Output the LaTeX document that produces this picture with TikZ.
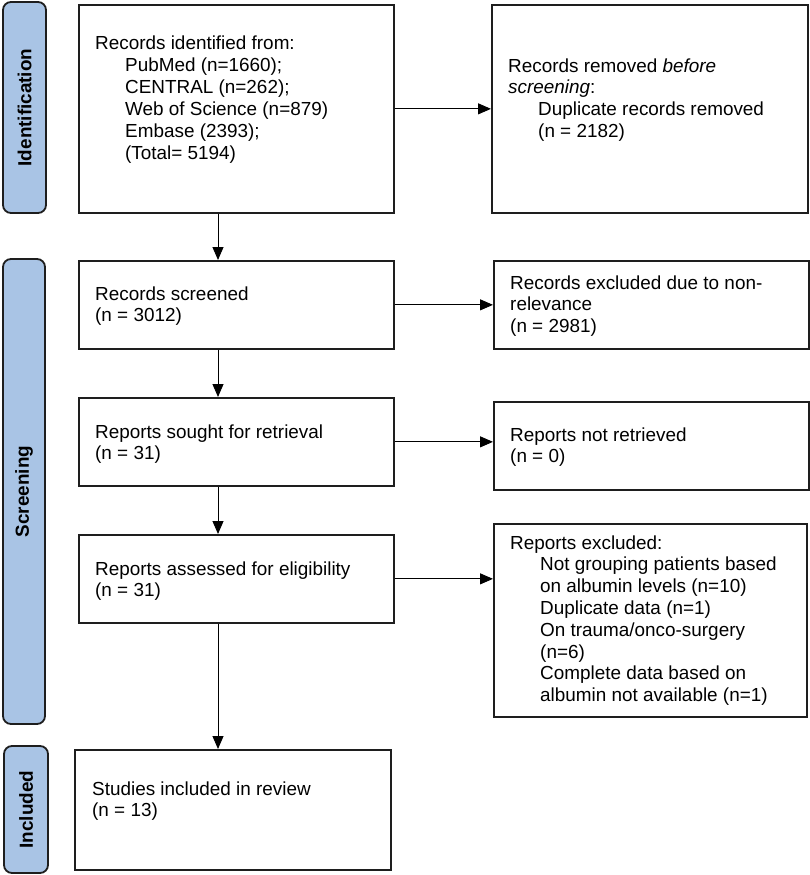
\documentclass[tikz,border=0pt]{standalone}
\usepackage{fontspec}
\setmainfont{Liberation Sans}
\usetikzlibrary{arrows.meta}
\definecolor{sideblue}{RGB}{169,196,229}
\definecolor{edge}{RGB}{30,30,30}
\newcommand{\lns}[1]{\begin{tabular}[t]{@{}l@{}}#1\end{tabular}}
\newcommand{\ind}{\hspace*{30pt}}
\begin{document}
\begin{tikzpicture}[x=1pt,y=-1pt,
  box/.style={draw=edge,line width=1.7pt,fill=white,inner sep=0pt,anchor=north west},
  side/.style={draw=edge,line width=1.8pt,fill=sideblue,rounded corners=8pt,rotate=90,inner sep=0pt,
     font=\fontsize{18.9}{21.8}\selectfont\bfseries},
  txt/.style={inner sep=0pt,anchor=base west,font=\fontsize{18.9}{21.8}\selectfont},
  arr/.style={draw=black,line width=1pt,-{Triangle[length=13pt,width=11pt]}}]
\useasboundingbox (0,0) rectangle (810,875);

% side labels
\node[side,minimum width=211pt,minimum height=43pt] (s1) at (24.5,107.5) {Identification};
\node[side,minimum width=465pt,minimum height=42pt] (s2) at (24,491.5) {Screening};
\node[side,minimum width=127pt,minimum height=44pt] (s3) at (26,809.5) {Included};

% boxes
\node[box,minimum width=315pt,minimum height=208pt] (b1) at (78,4) {};
\node[box,minimum width=316pt,minimum height=208pt] (b2) at (491,4) {};
\node[box,minimum width=315pt,minimum height=88pt] (b3) at (78,260) {};
\node[box,minimum width=315pt,minimum height=88pt] (b4) at (493,260) {};
\node[box,minimum width=315pt,minimum height=88pt] (b5) at (78,397) {};
\node[box,minimum width=315pt,minimum height=88pt] (b6) at (493,401) {};
\node[box,minimum width=315pt,minimum height=88pt] (b7) at (78,534) {};
\node[box,minimum width=313pt,minimum height=193pt] (b8) at (493,523) {};
\node[box,minimum width=316pt,minimum height=120pt] (b9) at (74,749) {};

% texts
\node[txt] (t1) at (95,50) {\lns{Records identified from:\\
  \ind PubMed (n=1660);\\
  \ind CENTRAL (n=262);\\
  \ind Web of Science (n=879)\\
  \ind Embase (2393);\\
  \ind (Total= 5194)}};
\node[txt] (t2) at (508,72) {\lns{Records removed \emph{before}\\
  \emph{screening}:\\
  \ind Duplicate records removed\\
  \ind (n = 2182)}};
\node[txt] (t3) at (95,300) {\lns{Records screened\\(n = 3012)}};
\node[txt] (t4) at (510,289) {\lns{Records excluded due to non-\\relevance\\(n = 2981)}};
\node[txt] (t5) at (95,438) {\lns{Reports sought for retrieval\\(n = 31)}};
\node[txt] (t6) at (510,441) {\lns{Reports not retrieved\\(n = 0)}};
\node[txt] (t7) at (95,575) {\lns{Reports assessed for eligibility\\(n = 31)}};
\node[txt] (t8) at (510,549) {\lns{Reports excluded:\\
  \ind Not grouping patients based\\
  \ind on albumin levels (n=10)\\
  \ind Duplicate data (n=1)\\
  \ind On trauma/onco-surgery\\
  \ind (n=6)\\
  \ind Complete data based on\\
  \ind albumin not available (n=1)}};
\node[txt] (t9) at (92,795) {\lns{Studies included in review\\(n = 13)}};

% connectors
\coordinate (ax) at (218,0);
\draw[arr] (b1.south -| ax) -- (b3.north -| ax);
\draw[arr] (b3.south -| ax) -- (b5.north -| ax);
\draw[arr] (b5.south -| ax) -- (b7.north -| ax);
\draw[arr] (b7.south -| ax) -- (b9.north -| ax);
\draw[arr] (b1.east) -- (b2.west |- b1.east);
\draw[arr] (b3.east) -- (b4.west |- b3.east);
\draw[arr] (b5.east) -- (b6.west |- b5.east);
\draw[arr] (b7.east) -- (b8.west |- b7.east);
\end{tikzpicture}
\end{document}
